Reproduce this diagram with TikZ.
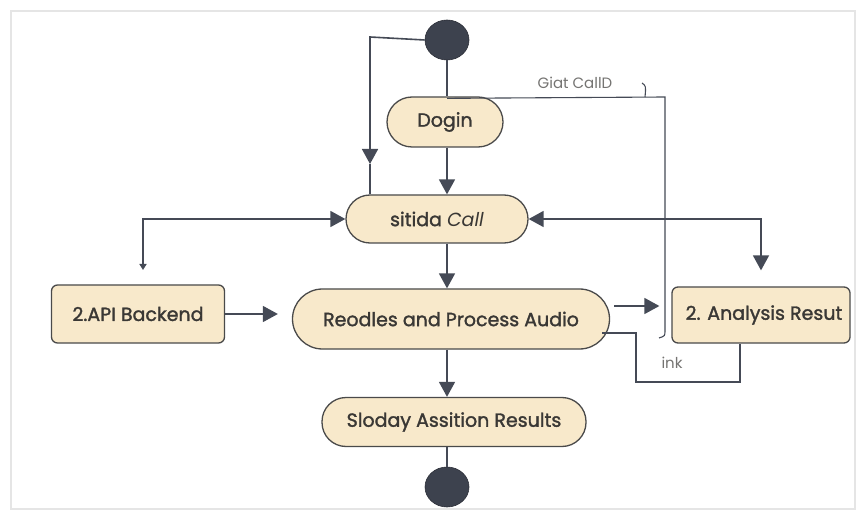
\documentclass[tikz,border=0pt]{standalone}
\usepackage{fontspec}
\setmainfont{Poppins}[AutoFakeBold=1.6]
\usetikzlibrary{arrows.meta,shapes.geometric,calc}
\definecolor{cream}{HTML}{F8E9CB}
\definecolor{edge}{HTML}{4A4A4A}
\definecolor{ink}{HTML}{454A56}
\definecolor{txt}{HTML}{3A3835}
\definecolor{dot}{HTML}{3D424E}
\begin{document}
\begin{tikzpicture}[x=1pt,y=-1pt,
  every node/.style={font=\fontsize{19}{22}\selectfont\bfseries\color{txt}},
  stadium/.style={draw=edge,line width=1.3pt,fill=cream,rounded corners=24pt,
    inner sep=0pt,minimum height=48pt},
  actbox/.style={draw=edge,line width=1.3pt,fill=cream,rounded corners=6pt,
    inner sep=0pt,minimum height=56pt},
  terminal/.style={ellipse,fill=dot,draw=dot!70!black,line width=0.6pt,
    minimum width=44pt,minimum height=40pt,inner sep=0pt},
  flow/.style={draw=ink,line width=1.6pt,-{Triangle[width=16pt,length=15pt]}},
  plain/.style={draw=ink,line width=1.6pt},
  thin/.style={draw=ink,line width=1.1pt},
  note/.style={font=\fontsize{15}{17}\selectfont\color{txt!70}}]
  % canvas and faint frame
  \useasboundingbox (0,0) rectangle (861,518);
  \fill[white] (0,0) rectangle (861,518);
  \draw[black!10,line width=2.5pt] (11,11) rectangle (855,509);

  % activity nodes
  \node[terminal] (start) at (447,40) {};
  \node[stadium,minimum width=116pt,minimum height=50pt,rounded corners=25pt] (dogin) at (445,122) {Dogin};
  \node[stadium,minimum width=182pt] (call) at (437,219) {sitida \textit{Call}};
  \node[actbox,minimum width=173pt,minimum height=58pt] (api) at (138,314) {2.API Backend};
  \node[stadium,minimum width=317pt,minimum height=60pt,rounded corners=30pt] (reod) at (451,319) {Reodles and Process Audio};
  \node[actbox,minimum width=178pt] (anal) at (761,315) {\hspace{6pt}2. Analysis Resut};
  \node[stadium,minimum width=264pt,minimum height=49pt] (slod) at (454,422) {Sloday Assition Results};
  \node[terminal] (end) at (447,487) {};

  % helper points
  \coordinate (spine) at (447,0);
  \coordinate (lt) at (370,37);
  \coordinate (lmid) at (370,164);
  \coordinate (apitop) at (143,270);
  \coordinate (rtop) at (665,97);
  \coordinate (rlow) at (665,330);
  \coordinate (loopa) at (636,333);
  \coordinate (loopb) at (636,382);
  \coordinate (loopc) at (740,382);

  % main spine
  \draw[plain] (start) -- (start |- dogin.north);
  \draw[flow] (dogin.south -| spine) -- (call.north -| spine);
  \draw[flow] (call.south -| spine) -- (reod.north -| spine);
  \draw[flow] (reod.south -| spine) -- (slod.north -| spine);
  \draw[plain] (slod.south -| spine) -- (end);

  % branch from the start node down to the call
  \draw[flow] (start.west) -- (lt) -- (lmid);
  \draw[plain] (lmid) -- (call.north -| lmid);

  % backend link
  \draw[draw=ink,line width=1.6pt,
    {Triangle[width=7pt,length=6pt]}-{Triangle[width=16pt,length=15pt]}]
    (apitop) |- (call.west);
  \draw[flow,shorten >=14pt] (api) -- (api.east -| reod.west);

  % analysis link
  \draw[draw=ink,line width=1.6pt,
    {Triangle[width=16pt,length=15pt]}-{Triangle[width=16pt,length=15pt]},
    shorten >=16pt] (call.east) -| (anal.north);
  \draw[flow] ($(reod.east)+(4,-13)$) -- ($(anal.west)+(-12,-9)$);

  % return line from the login
  \draw[thin] (dogin.north) ++(2,2) -- (rtop) -- (rlow)
    .. controls (665,336) .. (659,338);
  \node[note,anchor=south] (giat) at (575,92) {Giat CallD};
  \draw[thin] (642,83) .. controls (646,86) .. (645,97);

  % ink loop under the analysis result
  \draw[thin] ($(reod.east)+(-8,14)$) -- (loopa) -- (loopb) -- (loopc) -- (loopc |- anal.south);
  \node[note] (inklbl) at (672,363) {ink};
\end{tikzpicture}
\end{document}
